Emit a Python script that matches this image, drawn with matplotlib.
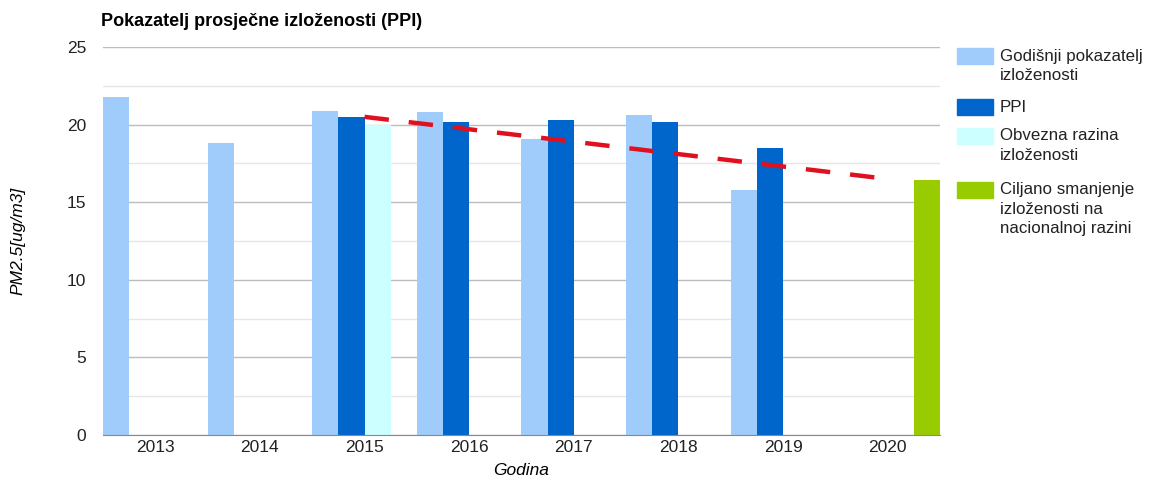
import numpy as np
import matplotlib
matplotlib.use("Agg")
import matplotlib.pyplot as plt
from matplotlib.patches import Rectangle

plt.rcParams['font.family'] = ['Liberation Sans', 'DejaVu Sans']

#<------------------------Podaci------------------------>
godine = ["2013", "2014", "2015", "2016", "2017", "2018", "2019", "2020"]
godisnji = [21.8, 18.8, 20.9, 20.8, 19.1, 20.6, 15.8, np.nan]
ppi = [np.nan, np.nan, 20.5, 20.2, 20.3, 20.2, 18.5, np.nan]
obvezna = [np.nan, np.nan, 20.0, np.nan, np.nan, np.nan, np.nan, np.nan]
ciljano = [np.nan, np.nan, np.nan, np.nan, np.nan, np.nan, np.nan, 16.4]
trend_x = [2, 7]
trend_y = [20.5, 16.5]

serije = [
    (godisnji, "#9fccfa", "Godišnji pokazatelj\nizloženosti"),
    (ppi, "#0066cc", "PPI"),
    (obvezna, "#ccffff", "Obvezna razina\nizloženosti"),
    (ciljano, "#99cc00", "Ciljano smanjenje\nizloženosti na\nnacionalnoj razini"),
]

#<------------------------Figura------------------------>
W, H = 1160, 480
fig = plt.figure(figsize=(W/100, H/100), dpi=100)
ax = fig.add_axes([0.0888, 0.0938, 0.7215, 0.8082])

x = np.arange(len(godine))
w = 0.25
for i, (vals, col, lab) in enumerate(serije):
    ax.bar(x + (i - 1.5) * w, vals, width=w, color=col, zorder=2)

ax.plot(trend_x, trend_y, color="#e0101e", lw=3.2, ls=(0, (5.5, 4.5)), zorder=3)

#<------------------------Osi------------------------>
ax.set_xlim(-0.5, 7.5)
ax.set_ylim(0, 25)
ax.set_yticks([0, 5, 10, 15, 20, 25])
ax.set_yticks(np.arange(2.5, 25, 5), minor=True)
ax.set_xticks(x)
ax.set_xticklabels(godine)
ax.tick_params(axis="both", length=0, labelsize=12.5, colors="#222222")
ax.tick_params(axis="y", which="minor", length=0)
ax.tick_params(axis="y", pad=12)
ax.grid(axis="y", which="major", color="#bcbcbc", lw=1, zorder=0)
ax.grid(axis="y", which="minor", color="#e6e6e6", lw=1, zorder=0)
for s in ["top", "right", "left"]:
    ax.spines[s].set_visible(False)
ax.spines["bottom"].set_color("#888888")
ax.spines["bottom"].set_zorder(4)

ax.set_xlabel("Godina", fontsize=12.5, style="italic", labelpad=6)
ax.set_ylabel("PM2.5[ug/m3]", fontsize=12.5, style="italic", labelpad=30)
fig.text(101/W, 1 - 22/H, "Pokazatelj prosječne izloženosti (PPI)",
         fontsize=13, fontweight="bold", va="center")

#<------------------------Legenda (rucno)------------------------>
leg_y = [56, 107, 136, 190]
for (vals, col, lab), yc in zip(serije, leg_y):
    fig.add_artist(Rectangle((957/W, 1 - (yc + 8)/H), 36/W, 16/H,
                             color=col, transform=fig.transFigure))
    for k, linija in enumerate(lab.split("\n")):
        fig.text(1000/W, 1 - (yc + k*19)/H, linija, fontsize=12.2,
                 va="center", ha="left", color="#222222")

plt.savefig("out.png", dpi=100)
